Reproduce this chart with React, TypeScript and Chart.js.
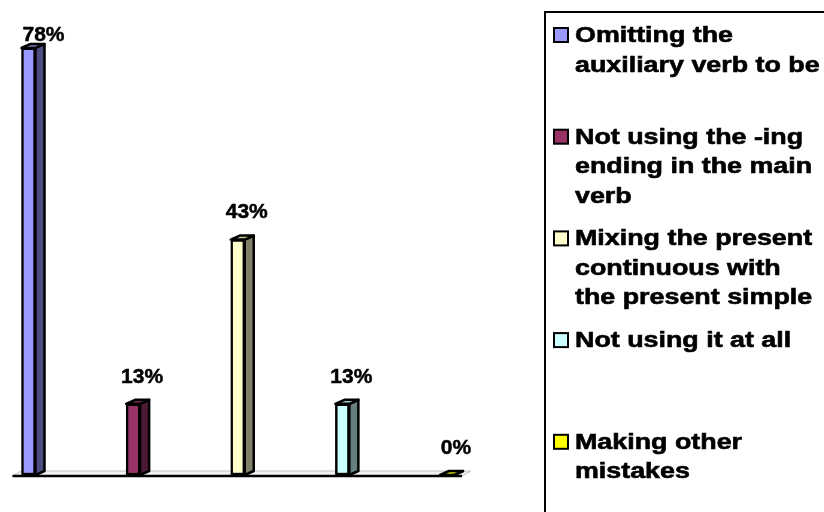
import React, { useEffect, useRef } from "react";
import { Chart, registerables } from "chart.js";

Chart.register(...registerables);

// Legend entries, already broken into the lines they are shown on
const legendLines: string[][] = [
  ["Omitting the", "auxiliary verb to be"],
  ["Not using the -ing", "ending in the main", "verb"],
  ["Mixing the present", "continuous with", "the present simple"],
  ["Not using it at all"],
  ["Making other", "mistakes"],
];
const categories: string[] = legendLines.map((l) => l.join(" "));

// Share of students (%) per error type
const values: number[] = [78, 13, 43, 13, 0];

const frontColors = ["#9999FF", "#993366", "#FFFFCC", "#CCFFFF", "#FFFF00"];
const sideColors = ["#4D4D80", "#4D1A33", "#808066", "#668080", "#808000"];
const topColors = ["#7A7ACC", "#7A2952", "#CCCCA3", "#A3CCCC", "#CCCC00"];

const DEPTH_X = 9;
const DEPTH_Y = 4;

const bar3dPlugin = {
  id: "bar3d",
  beforeDatasetsDraw(chart: any) {
    const ctx = chart.ctx;
    const meta = chart.getDatasetMeta(0);
    const xs = chart.scales.x;
    const ys = chart.scales.y;
    const base = ys.getPixelForValue(0);
    const left = xs.getPixelForValue(0) - 16;
    const right = xs.getPixelForValue(values.length - 1) + 15;

    // floor
    ctx.save();
    ctx.beginPath();
    ctx.moveTo(left, base + 1);
    ctx.lineTo(right, base + 1);
    ctx.lineTo(right + DEPTH_X, base - DEPTH_Y);
    ctx.lineTo(left + DEPTH_X, base - DEPTH_Y);
    ctx.closePath();
    ctx.fillStyle = "#F2F2F2";
    ctx.fill();
    ctx.strokeStyle = "#C0C0C0";
    ctx.lineWidth = 1;
    ctx.stroke();
    ctx.beginPath();
    ctx.moveTo(left, base + 1);
    ctx.lineTo(right, base + 1);
    ctx.strokeStyle = "#000";
    ctx.lineWidth = 2.5;
    ctx.stroke();
    ctx.restore();

    // side and top faces
    meta.data.forEach((el: any, i: number) => {
      const { x, y, base: b, width } = el.getProps(["x", "y", "base", "width"], true);
      const l = x - width / 2;
      const r = x + width / 2;
      ctx.save();
      ctx.lineWidth = 2.5;
      ctx.strokeStyle = "#000";
      ctx.lineJoin = "round";
      // side
      ctx.beginPath();
      ctx.moveTo(r, y);
      ctx.lineTo(r + DEPTH_X, y - DEPTH_Y);
      ctx.lineTo(r + DEPTH_X, b - DEPTH_Y);
      ctx.lineTo(r, b);
      ctx.closePath();
      ctx.fillStyle = sideColors[i];
      ctx.fill();
      ctx.stroke();
      // top
      ctx.beginPath();
      ctx.moveTo(l, y);
      ctx.lineTo(l + DEPTH_X, y - DEPTH_Y);
      ctx.lineTo(r + DEPTH_X, y - DEPTH_Y);
      ctx.lineTo(r, y);
      ctx.closePath();
      ctx.fillStyle = topColors[i];
      ctx.fill();
      ctx.stroke();
      ctx.restore();
    });
  },
  afterDatasetsDraw(chart: any) {
    const ctx = chart.ctx;
    const meta = chart.getDatasetMeta(0);
    ctx.save();
    ctx.font = "bold 21px 'Liberation Sans', Arial, sans-serif";
    ctx.fillStyle = "#000";
    ctx.strokeStyle = "#000";
    ctx.lineWidth = 0.5;
    ctx.textAlign = "center";
    ctx.textBaseline = "middle";
    meta.data.forEach((el: any, i: number) => {
      const { x, y } = el.getProps(["x", "y"], true);
      const wanted = y - 27;
      const clamped = wanted < 35;
      const ly = clamped ? 35 : wanted;
      const lx = x + 9 + (clamped ? 6 : 0);
      const txt = values[i] + "%";
      ctx.fillText(txt, lx, ly);
      ctx.strokeText(txt, lx, ly);
    });
    ctx.restore();
  },
  afterDraw(chart: any) {
    const ctx = chart.ctx;
    ctx.save();
    // legend frame
    ctx.strokeStyle = "#000";
    ctx.lineWidth = 2;
    ctx.strokeRect(545, 12, 300, 520);

    ctx.font = "bold 22px 'Liberation Sans', Arial, sans-serif";
    ctx.textBaseline = "alphabetic";
    ctx.textAlign = "left";
    const firstBaseline = 42;
    const itemStep = 101.7;
    const lineStep = 29.5;
    legendLines.forEach((lines, i) => {
      const by = firstBaseline + i * itemStep;
      // marker
      ctx.fillStyle = frontColors[i];
      ctx.fillRect(554, by - 14, 14, 14);
      ctx.lineWidth = 2;
      ctx.strokeStyle = "#000";
      ctx.strokeRect(554, by - 14, 14, 14);
      // text
      ctx.fillStyle = "#000";
      ctx.lineWidth = 0.6;
      lines.forEach((line, j) => {
        ctx.save();
        ctx.translate(575, by + j * lineStep);
        ctx.scale(1.22, 1);
        ctx.fillText(line, 0, 0);
        ctx.strokeText(line, 0, 0);
        ctx.restore();
      });
    });
    ctx.restore();
  },
};

export default function App() {
  const canvasRef = useRef<HTMLCanvasElement | null>(null);

  useEffect(() => {
    if (!canvasRef.current) return;
    const chart = new Chart(canvasRef.current, {
      type: "bar",
      data: {
        labels: categories,
        datasets: [
          {
            data: values,
            backgroundColor: frontColors,
            borderColor: "#000",
            borderWidth: 2.5,
            borderSkipped: false,
            barThickness: 14,
            clip: false as any,
          },
        ],
      },
      options: {
        responsive: false,
        devicePixelRatio: 1,
        animation: false,
        layout: { padding: { left: 28.5, right: 377, top: 37, bottom: 37 } },
        scales: {
          x: { type: "category", offset: false, display: false },
          y: { min: 0, max: 80, display: false },
        },
        plugins: {
          legend: { display: false },
          tooltip: { enabled: false },
        },
      },
      plugins: [bar3dPlugin],
    });
    return () => chart.destroy();
  }, []);

  return (
    <div style={{ position: "fixed", left: 0, top: 0, width: 824, height: 512, background: "#fff" }}>
      <canvas ref={canvasRef} width={824} height={512} />
    </div>
  );
}
